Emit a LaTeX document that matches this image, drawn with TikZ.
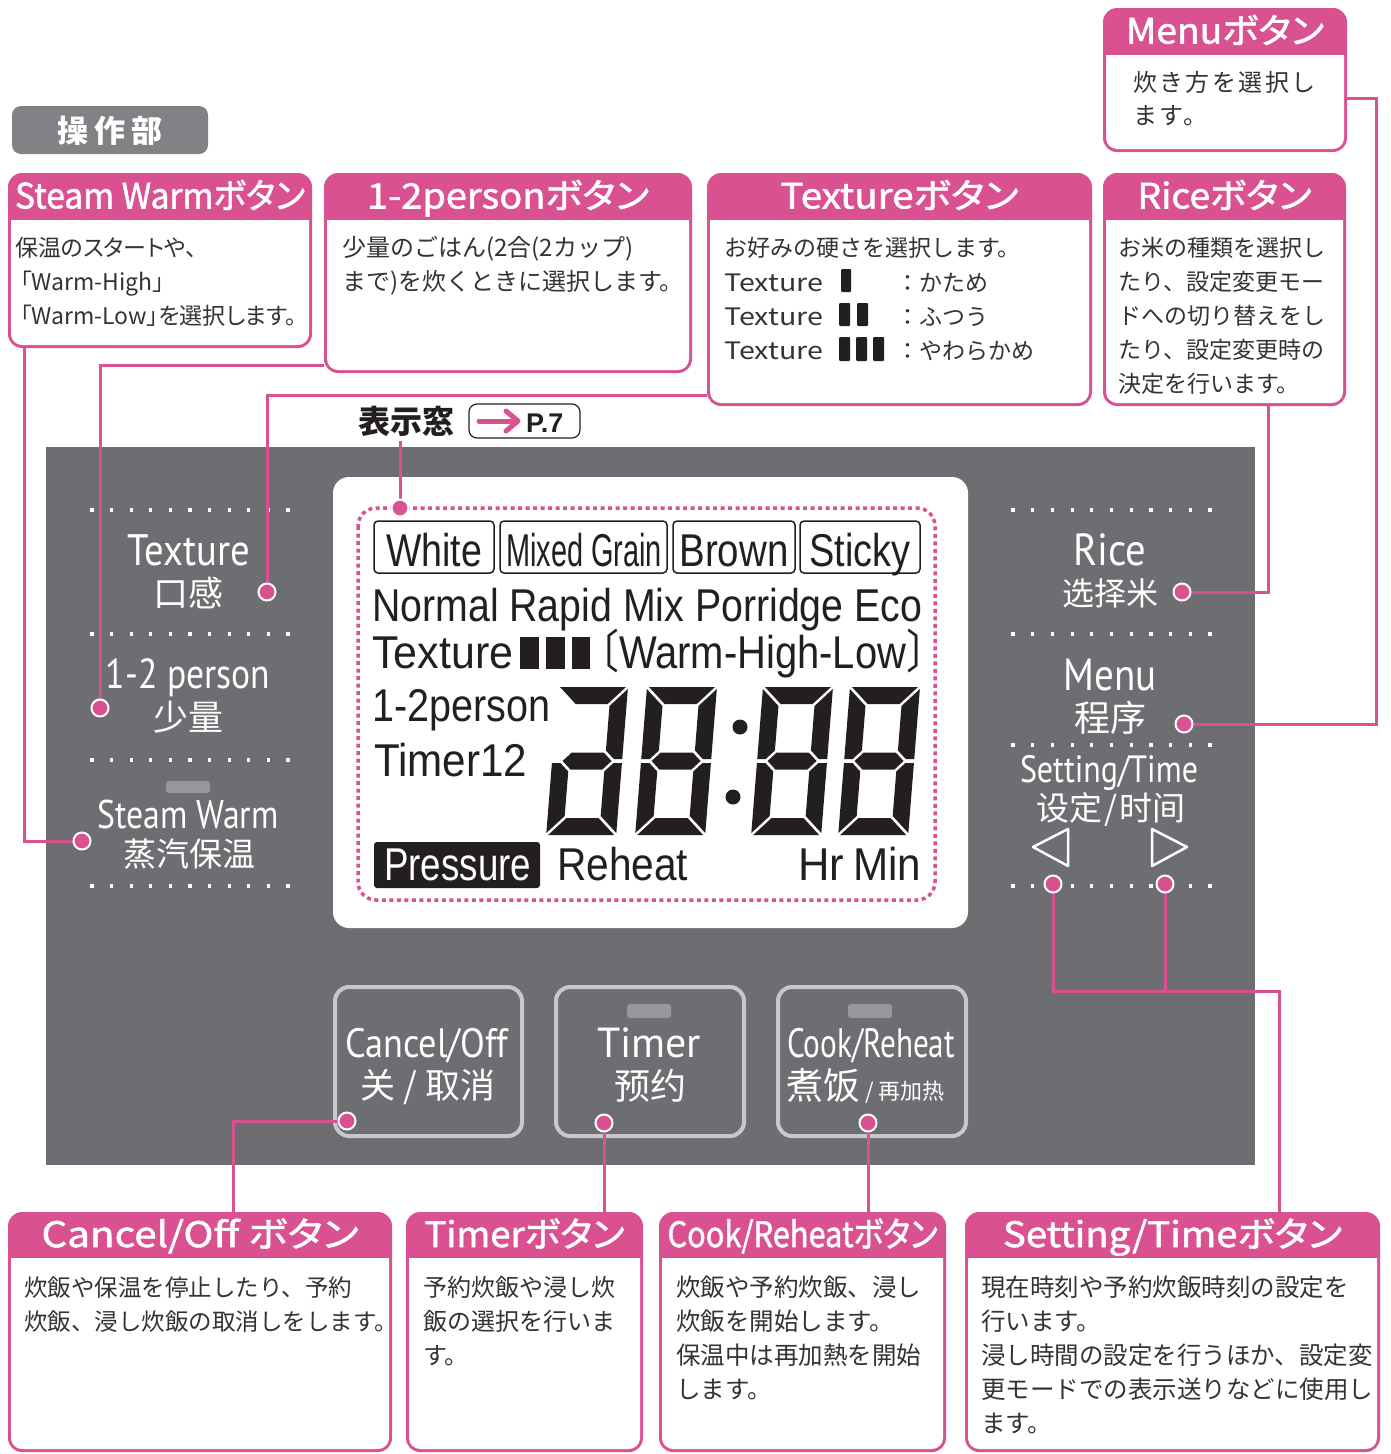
\documentclass[tikz,border=0pt]{standalone}
\usepackage{fontspec}
\usepackage{graphicx}
\setmainfont{Noto Sans CJK JP}
\newfontfamily\jp{Noto Sans CJK JP}
\newfontfamily\jph{Noto Sans CJK JP}[RawFeature=+palt, FakeBold=1.5]
\newfontfamily\jpp{Noto Sans CJK JP}[RawFeature=+palt]
\newfontfamily\jpls{Noto Sans CJK JP}[LetterSpace=10]
\newfontfamily\scf{Noto Sans CJK SC}
\newfontfamily\pts{PT Sans}
\newfontfamily\lcd{Liberation Sans}
\definecolor{pk}{HTML}{DA5191}
\definecolor{panel}{HTML}{6D6E71}
\definecolor{btnc}{HTML}{C7C8CA}
\definecolor{ind}{HTML}{97989B}
\definecolor{lblgray}{HTML}{808285}
\definecolor{txt}{HTML}{333333}
\definecolor{lcdk}{HTML}{231F20}
\newcommand\fs[1]{\fontsize{#1}{#1}\selectfont}
\newcommand\fitw[2]{\resizebox{#1pt}{\height}{#2}}
\tikzset{
 hdr/.style={text=white, font=\jph\fs{35}, inner sep=0, anchor=base},
 body/.style={text=txt, font=\jp\fs{24}, inner sep=0, anchor=base west},
 pnl/.style={text=white, inner sep=0, anchor=base},
 lcdt/.style={text=lcdk, inner sep=0, anchor=base west, font=\lcd\fs{46}},
 dotn/.style={circle, fill=pk, draw=white, line width=2pt, minimum size=17pt, inner sep=0},
 conn/.style={pk, line width=3pt},
 btn/.style={draw=btnc, line width=4pt, rounded corners=14pt, fill=panel},
 lcdbox/.style={draw=lcdk, line width=1.5pt, rounded corners=4pt, inner sep=0, minimum height=52pt},
}
\newcommand\callout[7]{%
 \fill[pk, rounded corners=14pt] (#2,#3) rectangle (#4,#5);
 \fill[white] (#2+3,#3+#6) [rounded corners=11pt] -- (#2+3,#5-3) -- (#4-3,#5-3) [sharp corners] -- (#4-3,#3+#6) -- cycle;
 \node[hdr] (#1) at ({(#2+#4)/2},{#3+#6/2+12}) {#7};
}
\newcommand\bodylines[5]{%
 \foreach \t [count=\i] in {#5} {\node[body, font=\jp\fs{#4}] (#1\i) at (#2,{#3+(\i-1)*34}) {\t};}
}
\newcommand\segsnof{%
 \fill[lcdk] (2,0) -- (68,0) -- (51,17) -- (19,17) -- cycle;
 \fill[lcdk] (70,2) -- (70,72) -- (61.5,72) -- (53,63.5) -- (53,19) -- cycle;
 \fill[lcdk] (70,146) -- (53,129) -- (53,84.5) -- (61.5,76) -- (70,76) -- cycle;
 \fill[lcdk] (2,148) -- (68,148) -- (51,131) -- (19,131) -- cycle;
 \fill[lcdk] (0,146) -- (17,129) -- (17,84.5) -- (8.5,76) -- (0,76) -- cycle;
 \fill[lcdk] (10.5,74) -- (19,65.5) -- (51,65.5) -- (59.5,74) -- (51,82.5) -- (19,82.5) -- cycle;}
\newcommand\segf{\fill[lcdk] (0,2) -- (17,19) -- (17,63.5) -- (8.5,72) -- (0,72) -- cycle;}
\begin{document}
\begin{tikzpicture}[x=1pt,y=-1pt]
\useasboundingbox (0,0) rectangle (1391,1454);
\fill[white] (0,0) rectangle (1391,1454);

% ---------- operating panel ----------
\fill[panel] (46,447) rectangle (1255,1165);
\fill[white, rounded corners=16pt] (333,477) rectangle (968,928);
\draw[pk, line width=3.5pt, dash pattern=on 4pt off 3.5pt, rounded corners=18pt] (358,508) rectangle (935,900);

% dotted separators
\foreach \yy in {510,634,760,886} {\foreach \k in {0,...,10} {\fill[white] ({92+19.6*\k-1.6},{\yy-1.6}) rectangle ++(3.2,3.2);}}
\foreach \yy in {510,634,745,886} {\foreach \k in {0,...,10} {\fill[white] ({1013+19.7*\k-1.6},{\yy-1.6}) rectangle ++(3.2,3.2);}}

% left column labels
\node[pnl] (lTex) at (189,565) {\pts\fs{44}\fitw{122}{Texture}};
\node[pnl] (lTexc) at (188,606) {\scf\fs{35}口感};
\node[pnl] (lPer) at (188,688) {\pts\fs{42}\fitw{164}{1-2 person}};
\node[pnl] (lPerc) at (188,730) {\scf\fs{35}少量};
\fill[ind, rounded corners=3pt] (166,781) rectangle (210,793);
\node[pnl] (lSW) at (188,828) {\pts\fs{40}\fitw{181}{Steam Warm}};
\node[pnl] (lSWc) at (189,866) {\scf\fs{33}蒸汽保温};

% right column labels
\node[pnl] (rRice) at (1110,565) {\pts\fs{45}\fitw{73}{Rice}};
\node[pnl] (rRicec) at (1110,605) {\scf\fs{32}选择米};
\node[pnl] (rMenu) at (1110,690) {\pts\fs{45}\fitw{93}{Menu}};
\node[pnl] (rMenuc) at (1110,731) {\scf\fs{36}程序};
\node[pnl] (rSet) at (1109,782) {\pts\fs{38}\fitw{178}{Setting/Time}};
\node[pnl] (rSetc) at (1111,820) {\scf\fs{33}设定\hspace{2pt}/\hspace{2pt}时间};
\draw[white, line width=2.5pt, line join=round] (1033,847) -- (1068,829) -- (1068,866) -- cycle;
\draw[white, line width=2.5pt, line join=round] (1152,829) -- (1187,847) -- (1152,866) -- cycle;

% bottom buttons
\draw[btn] (335,987) rectangle (522,1136);
\draw[btn] (556,987) rectangle (744,1136);
\draw[btn] (778,987) rectangle (966,1136);
\fill[ind, rounded corners=3pt] (627,1004) rectangle (671,1018);
\fill[ind, rounded corners=3pt] (848,1004) rectangle (892,1018);
\node[pnl] (bCan) at (427,1057) {\pts\fs{41}\fitw{163}{Cancel/Off}};
\node[pnl] (bCanc) at (428,1098) {\scf\fs{35}关 / 取消};
\node[pnl] (bTim) at (649,1057) {\pts\fs{42}\fitw{104}{Timer}};
\node[pnl] (bTimc) at (650,1099) {\scf\fs{36}预约};
\node[pnl] (bCook) at (871,1057) {\pts\fs{41}\fitw{168}{Cook/Reheat}};
\node[pnl, anchor=base west] (bCookc) at (786,1099) {\scf\fs{37}煮饭\fs{22} / 再加热};

% ---------- LCD contents ----------
\node[lcdbox, minimum width=120pt] (bxWhite) at (434,547) {};
\node[lcdbox, minimum width=167pt] (bxMixed) at (583.5,547) {};
\node[lcdbox, minimum width=122pt] (bxBrown) at (734,547) {};
\node[lcdbox, minimum width=120pt] (bxSticky) at (860,547) {};
\node[lcdt, anchor=base] (tWhite) at (434,566) {\fitw{96}{White}};
\node[lcdt, anchor=base] (tMixed) at (584,566) {\fitw{156}{Mixed Grain}};
\node[lcdt, anchor=base] (tBrown) at (734,566) {\fitw{109}{Brown}};
\node[lcdt, anchor=base] (tSticky) at (860,566) {\fitw{101}{Sticky}};
\node[lcdt] (tModes) at (372,621) {\fitw{550}{Normal Rapid Mix Porridge Eco}};
\node[lcdt] (tTex) at (372,668) {\fitw{141}{Texture}};
\fill[lcdk] (520,637) rectangle (539,669);
\fill[lcdk] (546,637) rectangle (565,669);
\fill[lcdk] (572,637) rectangle (590,669);
\node[lcdt] (tWarm) at (601,668) {\fitw{323}{{\jp\fs{46}\hspace{-0.55em}〔}Warm-High-Low{\jp\fs{46}〕\hspace{-0.55em}}}};
\node[lcdt] (tPerson) at (372,721) {\fitw{178}{1-2person}};
\node[lcdt] (tTimer) at (374,776) {\fitw{153}{Timer12}};
\begin{scope}[shift={(558,687)}, xslant=0.08] \segsnof \end{scope}
\begin{scope}[shift={(647,687)}, xslant=0.08] \segsnof \segf \end{scope}
\begin{scope}[shift={(763,687)}, xslant=0.08] \segsnof \segf \end{scope}
\begin{scope}[shift={(850,687)}, xslant=0.08] \segsnof \segf \end{scope}
\fill[lcdk] (740,727) circle (7.5);
\fill[lcdk] (733,797) circle (7.5);
\fill[lcdk, rounded corners=3pt] (374,842) rectangle (540,888);
\node[lcdt, text=white] (tPress) at (384,880) {\fitw{147}{Pressure}};
\node[lcdt] (tReheat) at (557,880) {\fitw{131}{Reheat}};
\node[lcdt] (tHr) at (798,880) {\fitw{46}{Hr}};
\node[lcdt] (tMin) at (853,880) {\fitw{68}{Min}};

% ---------- labels above panel ----------
\fill[lblgray, rounded corners=9pt] (12,106) rectangle (208,154);
\node[text=white, inner sep=0, anchor=base, font=\jp\bfseries\fs{31}] (sousa) at (110,142) {操\hspace{6pt}作\hspace{6pt}部};
\node[inner sep=0, anchor=base west, font=\jp\bfseries\fs{32}, text=lcdk] (dispLbl) at (358,433) {表示窓};
\node[draw=lcdk, line width=1.2pt, rounded corners=8pt, minimum width=111pt, minimum height=34pt, inner sep=0] (refbox) at (524.5,421) {};
\draw[pk, line width=5pt, line cap=round] (479,421) -- (516,421);
\draw[pk, line width=5pt, line cap=round, line join=round] (506,411) -- (518,421) -- (506,431);
\node[inner sep=0, anchor=base west, font=\lcd\bfseries\fs{27}, text=lcdk] (pref) at (526,432) {P.7};

% ---------- callouts ----------
\callout{hSW}{8}{173}{312}{348}{47}{\fitw{290}{Steam Warmボタン}}
\callout{hPer}{324}{173}{692}{373}{47}{\fitw{282}{1-2personボタン}}
\callout{hTex}{707}{173}{1092}{406}{47}{\fitw{238}{Textureボタン}}
\callout{hRice}{1103}{173}{1346}{406}{47}{\fitw{174}{Riceボタン}}
\callout{hMenu}{1103}{8}{1347}{152}{47}{\fitw{198}{Menuボタン}}
\callout{hCan}{8}{1212}{392}{1452}{46}{\fitw{317}{Cancel/Off ボタン}}
\callout{hTim}{406}{1212}{643}{1452}{46}{\fitw{200}{Timerボタン}}
\callout{hCook}{659}{1212}{946}{1452}{46}{\fitw{270}{Cook/Reheatボタン}}
\callout{hSet}{965}{1212}{1380}{1452}{46}{\fitw{339}{Setting/Timeボタン}}

\foreach \t [count=\i] in {{保温のスタートや、},{\hspace{5pt}「Warm-High」},{\hspace{5pt}「Warm-Low」を選択します。}} {\node[body, font=\jpp\fs{23}] (sw\i) at (15,{256+(\i-1)*34}) {\t};}
\bodylines{pe}{342}{256}{24}{{少量のごはん(2合(2カップ)},{まで)を炊くときに選択します。}}
\bodylines{tx}{724}{256}{23}{{お好みの硬さを選択します。}}
\node[body, font=\jp\fs{24}] (tx2) at (724,291) {\fitw{99}{Texture}};
\node[body, font=\jp\fs{24}] (tx3) at (724,325) {\fitw{99}{Texture}};
\node[body, font=\jp\fs{24}] (tx4) at (724,359) {\fitw{99}{Texture}};
\fill[lcdk, rounded corners=1pt] (841,269) rectangle (851,292);
\fill[lcdk, rounded corners=1pt] (839,303) rectangle (850,326);
\fill[lcdk, rounded corners=1pt] (857,303) rectangle (868,326);
\fill[lcdk, rounded corners=1pt] (839,337) rectangle (850,361);
\fill[lcdk, rounded corners=1pt] (856,337) rectangle (867,361);
\fill[lcdk, rounded corners=1pt] (873,337) rectangle (884,361);
\node[body, font=\jp\fs{23}] (tx2b) at (896,291) {：かため};
\node[body, font=\jp\fs{23}] (tx3b) at (896,325) {：ふつう};
\node[body, font=\jp\fs{23}] (tx4b) at (896,359) {：やわらかめ};
\bodylines{ri}{1118}{256}{23}{{お米の種類を選択し},{たり、設定変更モー},{ドへの切り替えをし},{たり、設定変更時の},{決定を行います。}}
\foreach \t [count=\i] in {{炊き方を選択し},{ます。}} {\node[body, font=\jpls\fs{24}] (me\i) at (1133,{91+(\i-1)*33}) {\t};}
\bodylines{ca}{24}{1296}{23.5}{{炊飯や保温を停止したり、予約},{炊飯、浸し炊飯の取消しをします。}}
\bodylines{ti}{423}{1296}{24}{{予約炊飯や浸し炊},{飯の選択を行いま},{す。}}
\bodylines{co}{676}{1296}{24.5}{{炊飯や予約炊飯、浸し},{炊飯を開始します。},{保温中は再加熱を開始},{します。}}
\bodylines{se}{981}{1296}{24.5}{{現在時刻や予約炊飯時刻の設定を},{行います。},{浸し時間の設定を行うほか、設定変},{更モードでの表示送りなどに使用し},{ます。}}

% ---------- connectors ----------
\coordinate (swdot) at (82,841);
\coordinate (pdot) at (100,708);
\coordinate (tdot) at (267,592);
\coordinate (ddot) at (400,508);
\coordinate (rdot) at (1182,592);
\coordinate (mdot) at (1184,724);
\coordinate (sdot1) at (1053,884);
\coordinate (sdot2) at (1165,884);
\coordinate (cdot) at (347,1121);
\coordinate (tmdot) at (604,1123);
\coordinate (ckdot) at (868,1123);
\coordinate (swA) at (24,348);
\coordinate (pA) at (324,365);
\coordinate (tA) at (707,395);
\coordinate (dA) at (400,441);
\coordinate (rA) at (1268,406);
\coordinate (mA) at (1347,98);
\coordinate (mB) at (1376,98);
\coordinate (sA) at (1279,1212);
\coordinate (sJ) at (1279,991);
\coordinate (cA) at (233,1212);
\coordinate (tmA) at (604,1212);
\coordinate (ckA) at (868,1212);
\draw[conn] (swA) |- (swdot);
\draw[conn] (pA) -| (pdot);
\draw[conn] (tA) -| (tdot);
\draw[conn] (dA) -- (ddot);
\draw[conn] (rA) |- (rdot);
\draw[conn] (mA) -- (mB) |- (mdot);
\draw[conn] (sdot1) |- (sJ) -- (sA);
\draw[conn] (sdot2) -- (sdot2 |- sJ);
\draw[conn] (cA) |- (cdot);
\draw[conn] (tmA) -- (tmdot);
\draw[conn] (ckA) -- (ckdot);
\foreach \d in {swdot,pdot,tdot,ddot,rdot,mdot,sdot1,sdot2,cdot,tmdot,ckdot} {\node[dotn] (\d n) at (\d) {};}
\end{tikzpicture}
\end{document}
